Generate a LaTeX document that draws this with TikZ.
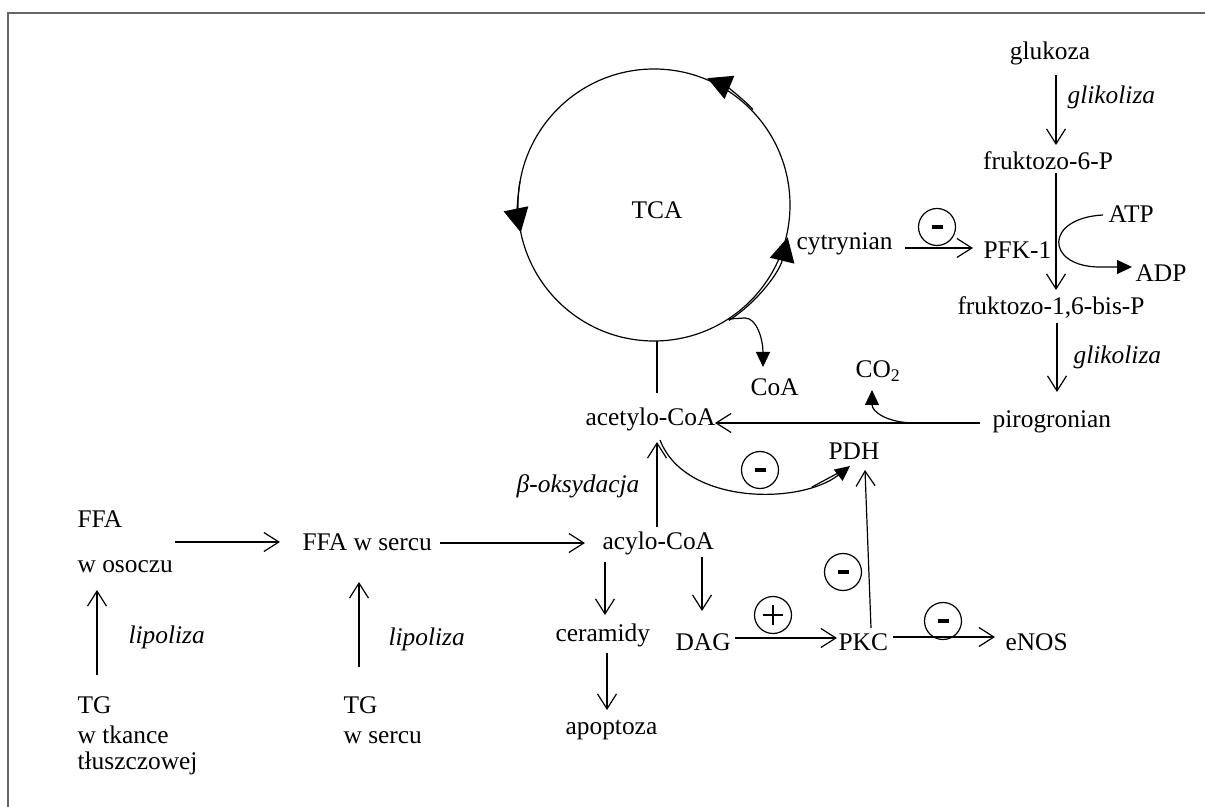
\documentclass[tikz,border=0pt]{standalone}
\usepackage{fontspec}
\setmainfont{Liberation Serif}
\usetikzlibrary{arrows.meta}
\begin{document}
\begin{tikzpicture}[x=0.5pt, y=-0.5pt, line width=0.6pt,
  every node/.style={inner sep=0pt, font=\fontsize{12.7}{14.8}\selectfont},
  term/.style={anchor=base west},
  cterm/.style={anchor=base},
  proc/.style={anchor=base west, font=\fontsize{12.7}{14.8}\selectfont\itshape},
  open/.style={-{Straight Barb[length=7.5pt,width=9.5pt]}},
  fillhead/.style={-{Triangle[length=7.5pt,width=7pt]}},
  cyclehead/.style={-{Triangle[length=12pt,width=12.5pt]}},
  sign/.style={circle, draw, minimum size=18.5pt, inner sep=0pt}]

\useasboundingbox (0,0) rectangle (1205,807);
% page frame (left and top edges)
\draw[line width=1pt, black!60] (8,807) -- (8,13) -- (1205,13);

% ---------- glycolysis column ----------
\node[cterm] (glukoza) at (1050,60) {glukoza};
\node[proc]  (glik1)   at (1067,104) {glikoliza};
\node[cterm] (f6p)     at (1048,170) {fruktozo-6-P};
\node[term]  (atp)     at (1108,223) {ATP};
\node[term]  (pfk)     at (983,259) {PFK-1};
\node[term]  (adp)     at (1135,282) {ADP};
\node[cterm] (f16bp)   at (1051,315) {fruktozo-1,6-bis-P};
\node[proc]  (glik2)   at (1073,364) {glikoliza};
\node[term]  (piro)    at (992,428) {pirogronian};
\node[term]  (co2)     at (855,378) {CO\textsubscript{2}};

% ---------- TCA cycle ----------
\coordinate (tcac) at (654,205);
\node[cterm] (tca)    at (657,219) {TCA};
\node[term]  (coa)    at (750,396) {CoA};
\node[term]  (cit)    at (796,250) {cytrynian};
\node[term]  (acetyl) at (585,426) {acetylo-CoA};
\node[term]  (pdh)    at (828,460) {PDH};

% ---------- fatty acids ----------
\node[anchor=base east, font=\fontsize{12.7}{14.8}\selectfont\itshape] (boks) at (640,493) {β-oksydacja};
\node[term]  (acyl)  at (602,550) {acylo-CoA};
\node[term]  (ffah)  at (302,551) {FFA w sercu};
\node[term]  (ffa)   at (77,528) {FFA};
\node[term]  (osocz) at (77,572) {w osoczu};
\node[proc]  (lip1)  at (128,643) {lipoliza};
\node[proc]  (lip2)  at (388,645) {lipoliza};
\node[term]  (tg1)   at (77,713) {TG};
\node[term]  (tkan)  at (77,743) {w tkance};
\node[term]  (tlusz) at (77,769) {tłuszczowej};
\node[term]  (tg2)   at (343,713) {TG};
\node[term]  (serce) at (343,743) {w sercu};
\node[term]  (cer)   at (555,641) {ceramidy};
\node[term]  (apop)  at (565,734) {apoptoza};
\node[term]  (dag)   at (675,650) {DAG};
\node[term]  (pkc)   at (838,650) {PKC};
\node[term]  (enos)  at (1005,650) {eNOS};

% ---------- regulation signs ----------
\node[sign] (inh-cit)  at (937,227) {\rule{5.5pt}{2pt}};
\node[sign] (inh-acet) at (760,470) {\rule{5.5pt}{2pt}};
\node[sign] (inh-pkc)  at (843,572) {\rule{5.5pt}{2pt}};
\node[sign] (inh-enos) at (943,621) {\rule{5.5pt}{2pt}};
\node[sign] (act-dag)  at (773,615) {};
\draw (act-dag.center) ++(-10,0) -- ++(20,0);
\draw (act-dag.center) ++(0,-10) -- ++(0,20);

% ---------- connector end points ----------
\coordinate (glukoza-o) at (1056,75);   \coordinate (f6p-i)   at (1056,145);
\coordinate (f6p-o)     at (1056,173);  \coordinate (f16bp-i) at (1056,290);
\coordinate (f16bp-o)   at (1057,323);  \coordinate (piro-i)  at (1057,392);
\coordinate (cit-o)     at (905,248);   \coordinate (pfk-i)   at (973,248);
\coordinate (piro-o)    at (980,423);   \coordinate (acetyl-i) at (715,423);
\coordinate (decarb)    at (915,423);   \coordinate (co2-i)   at (872,390);
\coordinate (atp-o)     at (1103,215);  \coordinate (adp-i)   at (1132,267);
\coordinate (acetyl-up) at (657,393);   \coordinate (tca-in)  at (657,341);
\coordinate (coa-src)   at (728,319);   \coordinate (coa-i)   at (763,367);
\coordinate (acyl-up)   at (657,527);   \coordinate (acetyl-lo) at (657,442);
\coordinate (acetyl-r)  at (660,440);   \coordinate (pdh-l)   at (850,466);
\coordinate (pkc-up)    at (871,628);   \coordinate (pdh-b)   at (865,470);
\coordinate (ffa-o)     at (175,542);   \coordinate (ffah-i)  at (280,542);
\coordinate (ffah-o)    at (440,543);   \coordinate (acyl-i)  at (585,543);
\coordinate (tg1-o)     at (97,675);    \coordinate (osocz-i) at (97,590);
\coordinate (tg2-o)     at (359,667);   \coordinate (ffah-lo) at (359,582);
\coordinate (acyl-cer)  at (605,562);   \coordinate (cer-i)   at (605,615);
\coordinate (acyl-dag)  at (702,557);   \coordinate (dag-i)   at (702,611);
\coordinate (cer-o)     at (607,653);   \coordinate (apop-i)  at (607,710);
\coordinate (dag-o)     at (735,638);   \coordinate (pkc-i)   at (837,638);
\coordinate (pkc-o)     at (893,637);   \coordinate (enos-i)  at (995,637);

% ---------- TCA circle with its direction arrows ----------
\draw (tcac) circle[radius=136];
\draw[cyclehead] (tcac) ++(190:136) arc[start angle=190, end angle=168.4, radius=136];
\draw[cyclehead] (tcac) ++(-44:137.6) arc[start angle=-44, end angle=-67.2, radius=137.6];
\draw[cyclehead] (tcac) ++(57:137.6) arc[start angle=57, end angle=13.6, radius=137.6];

% ---------- connectors ----------
\draw[open] (glukoza-o) -- (f6p-i);
\draw[open] (f6p-o) -- (f16bp-i);
\draw[open] (f16bp-o) -- (piro-i);
\draw[open] (cit-o) -- (pfk-i);
\draw[open] (piro-o) -- (acetyl-i);
\draw[fillhead] (decarb) .. controls (888,423) and (872,412) .. (co2-i);
\draw[fillhead] (atp-o) .. controls (1045,218) and (1045,265) .. (1097,267) -- (adp-i);
\draw (acetyl-up) -- (tca-in);
\draw[fillhead] (coa-src) -- (745,318) .. controls (757,318) and (763,340) .. (coa-i);
\draw[open] (acyl-up) -- (acetyl-lo);
\draw[fillhead] (acetyl-r) .. controls (685,505) and (800,505) .. (pdh-l);
\draw (812,487) -- (840,472);
\draw[open] (pkc-up) -- (pdh-b);
\draw[open] (ffa-o) -- (ffah-i);
\draw[open] (ffah-o) -- (acyl-i);
\draw[open] (tg1-o) -- (osocz-i);
\draw[open] (tg2-o) -- (ffah-lo);
\draw[open] (acyl-cer) -- (cer-i);
\draw[open] (acyl-dag) -- (dag-i);
\draw[open] (cer-o) -- (apop-i);
\draw[open] (dag-o) -- (pkc-i);
\draw[open] (pkc-o) -- (enos-i);
\end{tikzpicture}
\end{document}
